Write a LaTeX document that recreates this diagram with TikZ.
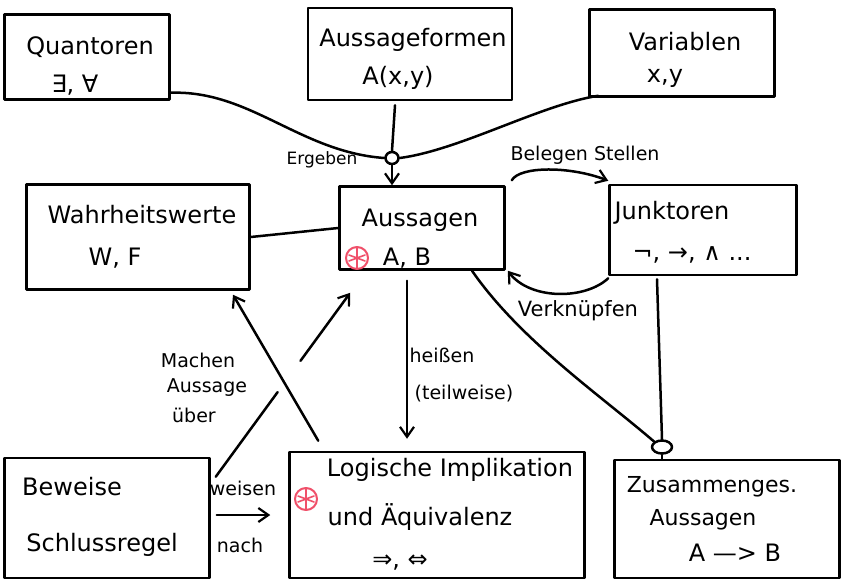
\documentclass[tikz,border=0pt]{standalone}
\usepackage{fontspec}
\setmainfont{DejaVu Sans}
\usetikzlibrary{calc,arrows.meta,shapes.geometric}
\definecolor{markred}{HTML}{F0506A}
\tikzset{
  box/.style={draw, rectangle, inner sep=0pt},
  ttl/.style={font=\fontsize{24}{28}\selectfont, inner sep=1pt},
  sml/.style={font=\fontsize{19}{22}\selectfont, inner sep=1pt},
  arr/.style={-{Straight Barb[length=10pt,width=14pt,line width=2.2pt]}},
  junc/.style={draw, ellipse, minimum width=20pt, minimum height=13pt, inner sep=0pt},
}
\newcommand{\redmark}[2]{%
  \draw[markred, line width=2pt] (#1,#2) circle (11pt);
  \draw[markred, line width=1.6pt] (#1-8,#2-3) -- (#1+8,#2+3) (#1-8,#2+3) -- (#1+8,#2-3) (#1,#2-10) -- (#1,#2+10);
}
\begin{document}
\begin{tikzpicture}[x=1pt,y=-1pt, line width=2.5pt, line cap=round, line join=round]
\useasboundingbox (0,0) rectangle (843,581);
\fill[white] (0,0) rectangle (843,581);

% boxes
\node[box, minimum width=165pt, minimum height=85pt] (q) at (87,57) {};
\node[ttl] (qt1) at (90,47) {Quantoren};
\node[ttl] (qt2) at (75,85) {∃, ∀};

\node[box, minimum width=204pt, minimum height=92pt] (af) at (410,54) {};
\node[ttl] (aft1) at (413,40) {Aussageformen};
\node[ttl] (aft2) at (398,78) {A(x,y)};

\node[box, minimum width=185pt, minimum height=87pt] (v) at (682,53) {};
\node[ttl] (vt1) at (685,42) {Variablen};
\node[ttl] (vt2) at (665,78) {x,y};

\node[box, minimum width=223pt, minimum height=105pt] (w) at (138,237) {};
\node[ttl] (wt1) at (142,215) {Wahrheitswerte};
\node[ttl] (wt2) at (115,258) {W, F};

\node[box, minimum width=165pt, minimum height=83pt] (a) at (422,228) {};
\node[ttl] (at1) at (420,220) {Aussagen};
\node[ttl] (at2) at (407,258) {A, B};

\node[box, minimum width=187pt, minimum height=90pt] (j) at (703,230) {};
\node[ttl] (jt1) at (672,213) {Junktoren};
\node[ttl] (jt2) at (692,255) {¬, →, ∧ ...};

\node[box, minimum width=205pt, minimum height=120pt] (b) at (107,518) {};
\node[ttl] (bt1) at (72,487) {Beweise};
\node[ttl] (bt2) at (102,545) {Schlussregel};

\node[box, minimum width=295pt, minimum height=126pt] (l) at (437,515) {};
\node[ttl] (lt1) at (450,470) {Logische Implikation};
\node[ttl] (lt2) at (420,517) {und Äquivalenz};
\node[ttl] (lt3) at (400,563) {⇒, ⇔};

\node[box, minimum width=225pt, minimum height=118pt] (z) at (727,519) {};
\node[ttl, font=\fontsize{22}{26}\selectfont] (zt1) at (712,487) {Zusammenges.};
\node[ttl, font=\fontsize{22}{26}\selectfont] (zt2) at (703,520) {Aussagen};
\node[ttl] (zt3) at (735,553) {A —> B};

% red marks
\redmark{357}{258}
\redmark{306}{499}

% merge into Aussagen
\node[junc, minimum width=13pt, minimum height=12pt] (m) at (392,158) {};
\draw ([yshift=8pt]q.south east) .. controls (250,90) and (300,152) .. (m.west);
\draw ([xshift=10pt,yshift=2pt]v.south west) .. controls (540,105) and (460,150) .. (m.east);
\draw ([xshift=-15pt,yshift=-4pt]af.south) -- (m.north);
\draw[arr] (m.south) -- ([xshift=-30pt]a.north);
\node[sml, font=\fontsize{17}{20}\selectfont] (erg) at (322,160) {Ergeben};

% Wahrheitswerte -- Aussagen
\draw (w.east) -- (a.west);

% Belegen Stellen
\draw[arr] ([xshift=6pt,yshift=5pt]a.north east) .. controls (520,166) and (570,166) .. ([yshift=3pt]j.north west);
\node[sml] (bel) at (585,155) {Belegen Stellen};

% Verknuepfen
\draw[arr] ([yshift=-2pt]j.south west) .. controls (585,300) and (530,300) .. ([xshift=2pt]a.south east);
\node[sml, font=\fontsize{21}{24}\selectfont] (verk) at (578,311) {Verknüpfen};

% heissen (teilweise)
\draw[arr] ([xshift=-15pt,yshift=-10pt]a.south) -- ([xshift=-30pt,yshift=12pt]l.north);
\node[sml] (hei) at (442,355) {heißen};
\node[sml] (teil) at (464,394) {(teilweise)};

% Aussagen / Junktoren -> Zusammengesetzte Aussagen
\node[junc] (c2) at (662,447) {};
\draw ([xshift=50pt]a.south) .. controls (520,340) and (600,395) .. (c2.north west);
\draw ([xshift=-46pt,yshift=-3pt]j.south) -- (c2.north);
\draw (c2.south) -- (z.north -| c2.south);

% Machen Aussage ueber
\draw[arr] ([xshift=30pt,yshift=10pt]l.north west) -- ([xshift=95pt,yshift=-4pt]w.south);
\node[sml] (mach1) at (198,360) {Machen};
\node[sml] (mach2) at (207,388) {Aussage};
\node[sml] (mach3) at (194,415) {über};

% Beweise -> Aussagen (with gap at crossing)
\coordinate (bs) at ([xshift=5pt,yshift=-20pt]b.north east);
\coordinate (ae) at ([xshift=12pt,yshift=-22pt]a.south west);
\draw (bs) -- ($(bs)!0.46!(ae)$);
\draw[arr] ($(bs)!0.63!(ae)$) -- (ae);

% weisen nach
\draw[arr] ([xshift=6pt,yshift=3pt]b.east) -- ([xshift=-18pt]l.west);
\node[sml] (wei) at (243,488) {weisen};
\node[sml] (nach) at (240,545) {nach};
\end{tikzpicture}
\end{document}
